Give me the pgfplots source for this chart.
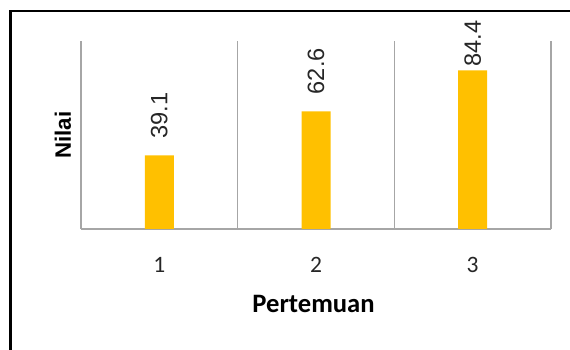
\documentclass[border=0pt]{standalone}
\usepackage{pgfplots}
\usepackage{pgfplotstable}
\pgfplotsset{compat=1.18}
\usepackage{fontspec}
\setmainfont{Liberation Sans}
\newfontfamily\calibri{Carlito}

\definecolor{bargold}{RGB}{255,192,0}
\definecolor{linegray}{RGB}{166,166,166}
\definecolor{darktext}{RGB}{38,38,38}

% average score per meeting
\pgfplotstableread{
x y
1 39.1
2 62.6
3 84.4
}\scores

% where each value label starts (the last one is pulled down to stay inside)
\pgfplotstableread{
x ypos label
1 48.1 39.1
2 71.6 62.6
3 86.2 84.4
}\labelpos

\begin{document}
\begin{tikzpicture}
\begin{axis}[
  at={(0pt,0pt)}, anchor=south west,
  width=470pt, height=188pt, scale only axis,
  xmin=0.5, xmax=3.5, ymin=0, ymax=100,
  axis x line*=bottom, axis y line*=left,
  axis line style={draw=linegray, line width=1.3pt},
  xtick={1,2,3}, ytick=\empty,
  major tick length=0pt,
  minor xtick={1.5,2.5,3.5}, minor tick length=0pt, xminorgrids,
  minor grid style={draw=linegray, line width=1.3pt},
  /pgf/number format/assume math mode=true,
  xticklabel style={font=\calibri\fontsize{23.5}{28}\selectfont, text=darktext, inner sep=0pt, yshift=-28pt},
  xlabel={Pertemuan},
  xlabel style={at={(axis description cs:0.4947,-0.4415)}, anchor=base, inner sep=0pt,
    font=\calibri\bfseries\fontsize{26.6}{30}\selectfont, text=black},
  ylabel={Nilai},
  ylabel style={at={(axis description cs:-0.0213,0.5)}, anchor=base, inner sep=0pt,
    font=\bfseries\fontsize{22.3}{26}\selectfont, text=black},
  clip=false,
]
\addplot[ybar, bar width=29pt, fill=bargold, draw=none] table[x=x, y=y]{\scores};
\addplot[draw=none, mark=none, point meta=explicit symbolic,
  nodes near coords,
  nodes near coords style={rotate=90, anchor=west, inner sep=0pt,
    font=\fontsize{23.6}{28}\selectfont, text=darktext}]
  table[x=x, y=ypos, meta=label]{\labelpos};
\end{axis}
% outer frame: top and left edges, running off the page
\draw[line width=2.5pt, black, line join=miter] (-70.3pt,-125pt) -- (-70.3pt,217.8pt) -- (495pt,217.8pt);
\pgfresetboundingbox
\useasboundingbox (-81pt,-121pt) rectangle (489pt,229pt);
\end{tikzpicture}
\end{document}
